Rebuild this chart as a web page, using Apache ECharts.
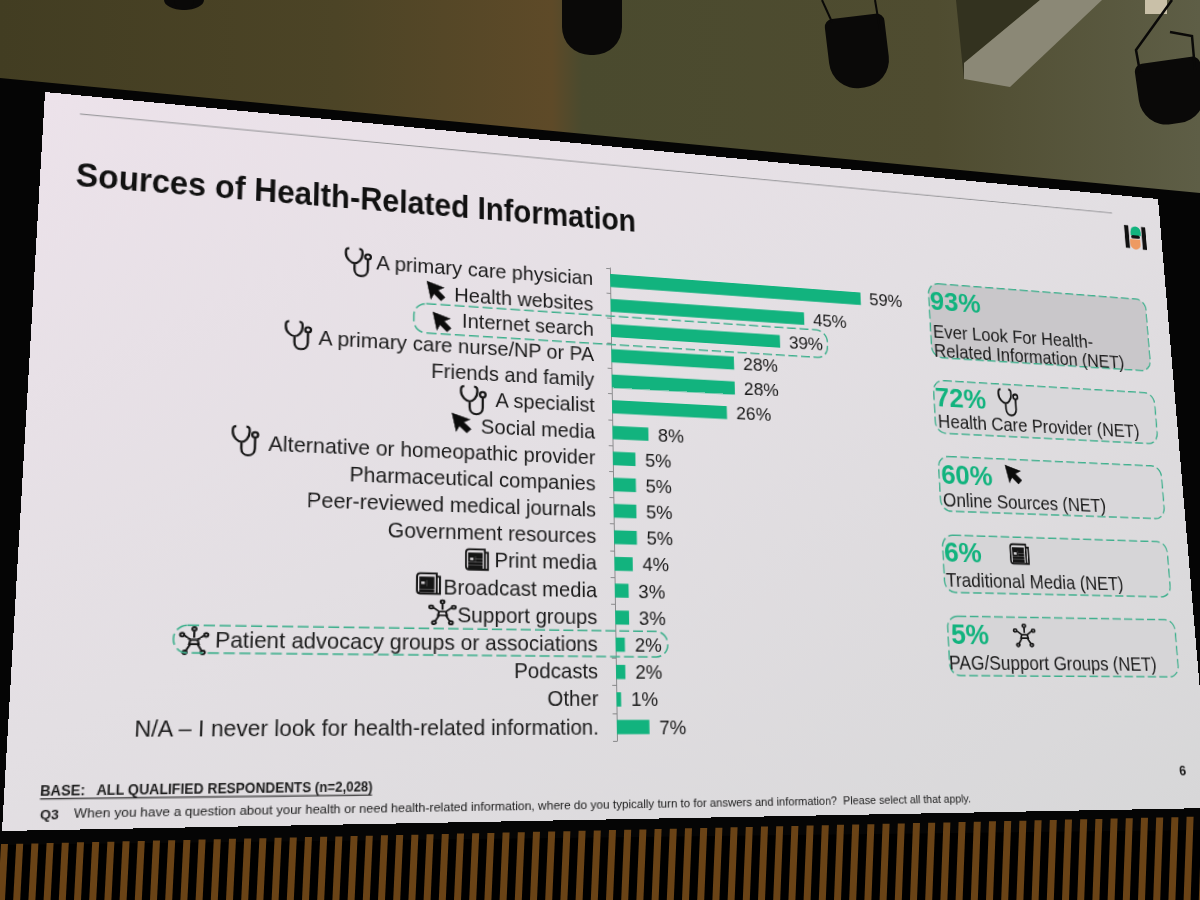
<!DOCTYPE html>
<html><head><meta charset="utf-8">
<style>html,body{margin:0;padding:0;background:#000;overflow:hidden}
#bg{position:absolute;left:0;top:0;width:1200px;height:900px}
#slide{position:absolute;left:0;top:0;width:1200px;height:675px;transform-origin:0 0}</style>
<script src="https://cdn.jsdelivr.net/npm/echarts@6/dist/echarts.min.js"></script>
</head><body><div id="bg"></div><div id="slide"></div>
<script>
const categories=["A primary care physician","Health websites","Internet search","A primary care nurse/NP or PA","Friends and family","A specialist","Social media","Alternative or homeopathic provider","Pharmaceutical companies","Peer-reviewed medical journals","Government resources","Print media","Broadcast media","Support groups","Patient advocacy groups or associations","Podcasts","Other","N/A – I never look for health-related information."];
const values=[59,45,39,28,28,26,8,5,5,5,5,4,3,3,2,2,1,7];
const titleText="Sources of Health-Related Information";
const baseText="BASE:   ALL QUALIFIED RESPONDENTS (n=2,028)";
const q3Text="When you have a question about your health or need health-related information, where do you typically turn to for answers and information?  Please select all that apply.";

const W=1200,H=675;
const TL=[45,92],TR=[1158,199],BR=[1210,808],BL=[2,831];
const dx1=TR[0]-BR[0],dx2=BL[0]-BR[0],dx3=TL[0]-TR[0]+BR[0]-BL[0];
const dy1=TR[1]-BR[1],dy2=BL[1]-BR[1],dy3=TL[1]-TR[1]+BR[1]-BL[1];
const den=dx1*dy2-dx2*dy1;
const g=(dx3*dy2-dx2*dy3)/den,h=(dx1*dy3-dx3*dy1)/den;
const a=TR[0]-TL[0]+g*TR[0],b=BL[0]-TL[0]+h*BL[0],c=TL[0];
const d=TR[1]-TL[1]+g*TR[1],e=BL[1]-TL[1]+h*BL[1],f=TL[1];
document.getElementById('slide').style.transform=`matrix3d(${a/W},${d/W},0,${g/W},${b/H},${e/H},0,${h/H},0,0,1,0,${c},${f},0,1)`;
// picture position -> slide position
function P(X,Y){
  const A=a-g*X,B=b-h*X,C=X-c,D=d-g*Y,E=e-h*Y,F=Y-f,det=A*E-B*D;
  return [(C*E-B*F)/det*W,(A*F-C*D)/det*H];
}
const ICONS={
  steth:{d:"M3 1C0 1 0 3 0 6C0 12 5 16 8 16C11 16 15 12 15 6C15 3 15 1 12 1M8 16V22C8 31 20 31 20 22V12M20 6A2.6 2.6 0 1 0 20 11.2A2.6 2.6 0 1 0 20 6Z",w:23,h:29,fill:false},
  cursor:{d:"M0 0L17 6L11 9L18 16L14 20L7 13L4 19Z",w:18,h:20,fill:true},
  news:{d:"M4 1H19V20H4C2 20 1 19 1 17V4C1 2 2 1 4 1ZM19 4H22V20H19M4 5H16V6.5H4ZM4 8H9V12H4ZM11 8H16V9H11ZM11 11H16V12H11ZM4 14H16V15H4ZM4 17H16V18H4Z",w:23,h:21,fill:false},
  net:{d:"M12 2V9M3 6L9 11M21 6L15 11M9 15L5 22M15 15L19 22M9 11H15L16 15H8ZM12 -1A1.7 1.7 0 1 0 12 2.4A1.7 1.7 0 1 0 12 -1ZM2 4.5A1.7 1.7 0 1 0 2 7.9A1.7 1.7 0 1 0 2 4.5ZM22 4.5A1.7 1.7 0 1 0 22 7.9A1.7 1.7 0 1 0 22 4.5ZM4.5 21A1.7 1.7 0 1 0 4.5 24.4A1.7 1.7 0 1 0 4.5 21ZM19.5 21A1.7 1.7 0 1 0 19.5 24.4A1.7 1.7 0 1 0 19.5 21Z",w:24,h:25,fill:false}
};
Object.keys(ICONS).forEach(k=>echarts.graphic.registerShape('ic_'+k,echarts.graphic.extendPath(ICONS[k].d,{})));
function rectOf(x0,y0,x1,y1){const p=P(x0,y0),q=P(x1,y1);return {x:p[0],y:p[1],width:q[0]-p[0],height:q[1]-p[1]};}
function icon(k,x0,y0,x1,y1){
  const r=rectOf(x0,y0,x1,y1),ic=ICONS[k];
  return {type:'ic_'+k,silent:true,z:5,x:r.x,y:r.y,scaleX:r.width/ic.w,scaleY:r.height/ic.h,
    style:ic.fill?{fill:'#0c0c0c',stroke:'#0c0c0c',lineWidth:.5}:{fill:'none',stroke:'#151515',lineWidth:k==='steth'?2.1:1.8}};
}
function dashed(x0,y0,x1,y1,fill){
  const r=rectOf(x0,y0,x1,y1);
  return {type:'rect',silent:true,z:fill?1:6,shape:Object.assign({r:12},r),
    style:{fill:fill||'none',stroke:'#3fb08d',lineWidth:1.5,lineDash:[10,4]}};
}
function txt(s,x,y,size,opt,extra){
  const p=P(x,y);
  return Object.assign({type:'text',silent:true,z:7,x:p[0],y:p[1],style:Object.assign({text:s,fill:'#1b1b1b',fontFamily:'Liberation Sans',fontSize:size,verticalAlign:'middle'},opt||{})},extra||{});
}
const GREEN='#12b37e';
const a0=P(610,268),a1=P(617,741),end59=P(860,285);
const grid={left:a0[0],top:a0[1],height:a1[1]-a0[1],width:(end59[0]-a0[0])*70/59};
const bold={fontWeight:'bold',fill:GREEN};
const lineA=P(80,114),lineB=P(1112,213),ulA=P(40,799),ulB=P(372,795);
const graphics=[
  {type:'line',silent:true,shape:{x1:lineA[0],y1:lineA[1],x2:lineB[0],y2:lineB[1]},style:{stroke:'#8f8f92',lineWidth:1}},
  {type:'line',silent:true,shape:{x1:ulA[0],y1:ulA[1],x2:ulB[0],y2:ulB[1]},style:{stroke:'#1b1b1b',lineWidth:1}},
  txt(titleText,76,174,33,{fontWeight:'bold',fill:'#111'},{scaleX:.91}),
  dashed(928,283,1151,371,'#c9c7ca'),dashed(933,380,1158,444,'#d9d7da'),dashed(938,456,1165,519,'#d9d7da'),dashed(942,535,1171,597,'#d6d5d7'),dashed(947,616,1179,677,'#d6d5d7'),
  dashed(414,303,828,358),dashed(174,625,668,657),
  icon('steth',346,247,371,277),icon('cursor',427,281,445,301),icon('cursor',433,312,451,332),icon('steth',286,320,311,350),
  icon('steth',461,385,486,415),icon('cursor',452,413,471,433),icon('steth',233,425,258,456),
  icon('news',465,548,489,571),icon('news',416,572,441,595),icon('net',429,601,456,625),icon('net',180,628,208,655),
  icon('steth',998,388,1019,416),icon('cursor',1005,465,1022,484),icon('news',1009,543,1030,565),icon('net',1013,625,1036,647),
  txt('93%',930,300,30,bold),txt('Ever Look For Health-',933,331,19.8),txt('Related Information (NET)',934,350,19.8),
  txt('72%',935,397,30,bold),txt('Health Care Provider (NET)',938,421,19.8),
  txt('60%',941,474,30,bold),txt('Online Sources (NET)',943,500,19.8),
  txt('6%',944,552,30,bold),txt('Traditional Media (NET)',946,580,19.8),
  txt('5%',951,634,30,bold),txt('PAG/Support Groups (NET)',949,662,19.8),
  txt('6',1179,770,15,{fontWeight:'bold'}),
  txt(baseText,40,791,12,{fontWeight:'bold'}),
  txt('Q3',40,815,11.5,{fontWeight:'bold'}),
  txt(q3Text,74,813,11.6),
  // logo
  {type:'rect',silent:true,shape:rectOf(1124,225,1130,248),style:{fill:'#111'}},
  {type:'rect',silent:true,shape:rectOf(1141,227,1147,250),style:{fill:'#111'}},
  {type:'rect',silent:true,shape:Object.assign({r:[7,7,0,0]},rectOf(1130,226,1141,236)),style:{fill:GREEN}},
  {type:'rect',silent:true,shape:Object.assign({r:[0,0,7,7]},rectOf(1130,239,1141,250)),style:{fill:'#ee9a62'}},
  {type:'rect',silent:true,shape:Object.assign({r:2},rectOf(1131,235,1140,239)),style:{fill:'#111'}}
];
const slide=echarts.init(document.getElementById('slide'),null,{renderer:'svg',width:W,height:H});
slide.setOption({
  animation:false,
  backgroundColor:new echarts.graphic.LinearGradient(0,0,1,1,[{offset:0,color:'#ece2ea'},{offset:.45,color:'#e3dfe3'},{offset:1,color:'#d7d7d8'}]),
  grid:grid,
  xAxis:{type:'value',min:0,max:70,show:false},
  yAxis:{type:'category',inverse:true,data:categories,
    axisLine:{show:true,lineStyle:{color:'#8a8a8c',width:1}},
    axisTick:{show:true,length:4,lineStyle:{color:'#8a8a8c'}},
    axisLabel:{margin:18,fontFamily:'Liberation Sans',fontSize:20.1,color:'#1b1b1b',interval:0}},
  series:[{type:'bar',data:values,barCategoryGap:'48%',itemStyle:{color:GREEN},
    label:{show:true,position:'right',distance:10,formatter:'{c}%',fontFamily:'Liberation Sans',fontSize:19,color:'#1b1b1b'}}],
  graphic:graphics
});

// room behind the slide
const floorX=[];
for(let x=-4;x<1210;x+=15.2) floorX.push(x);
const stripes=floorX.map(x=>({type:'polygon',silent:true,shape:{points:[[x+5,844-x*.023],[x+12,844-x*.023],[x+9,900],[x+2,900]]},style:{fill:'#6a4316'}}));
const bg=echarts.init(document.getElementById('bg'),null,{renderer:'canvas',width:1200,height:900});
const DARK='#0a0908';
bg.setOption({animation:false,backgroundColor:'#000',graphic:[
  {type:'rect',silent:true,shape:{x:0,y:0,width:1200,height:210},style:{fill:new echarts.graphic.LinearGradient(0,0,1,0,[{offset:0,color:'#423d22'},{offset:.28,color:'#4c4426'},{offset:.46,color:'#5e4a28'},{offset:.485,color:'#4a4a2e'},{offset:.78,color:'#4f4c30'},{offset:1,color:'#5e5e46'}])}},
  {type:'polygon',silent:true,shape:{points:[[956,0],[1040,0],[964,63],[964,80]]},style:{fill:'#33321f'}},
  {type:'polygon',silent:true,shape:{points:[[1040,0],[1102,0],[1010,87],[964,79],[964,63]]},style:{fill:'#8b8876'}},
  {type:'rect',silent:true,shape:{x:1145,y:0,width:22,height:14},style:{fill:'#c9c0a8'}},
  {type:'ellipse',silent:true,shape:{cx:184,cy:0,rx:20,ry:10},style:{fill:DARK}},
  {type:'circle',silent:true,shape:{cx:184,cy:0,r:10},style:{fill:DARK}},
  {type:'rect',silent:true,shape:{x:562,y:-12,width:60,height:67,r:[0,0,28,28]},style:{fill:DARK}},
  {type:'rect',silent:true,x:858,y:52,rotation:.12,shape:{x:-30,y:-36,width:60,height:72,r:[8,8,28,28]},style:{fill:DARK}},
  {type:'polyline',silent:true,shape:{points:[[822,0],[832,22]]},style:{stroke:DARK,lineWidth:2}},
  {type:'polyline',silent:true,shape:{points:[[875,0],[880,30]]},style:{stroke:DARK,lineWidth:2}},
  {type:'rect',silent:true,x:1170,y:92,rotation:.14,shape:{x:-32,y:-32,width:66,height:64,r:[8,8,28,28]},style:{fill:DARK}},
  {type:'polyline',silent:true,shape:{points:[[1172,0],[1136,50],[1140,72]]},style:{stroke:DARK,lineWidth:2.5}},
  {type:'polyline',silent:true,shape:{points:[[1170,32],[1192,36],[1195,70]]},style:{stroke:DARK,lineWidth:2.5}},
  {type:'polygon',silent:true,shape:{points:[[0,78],[1200,193],[1200,830],[0,845]]},style:{fill:'#050505'}},
  ...stripes
]});
</script></body></html>
